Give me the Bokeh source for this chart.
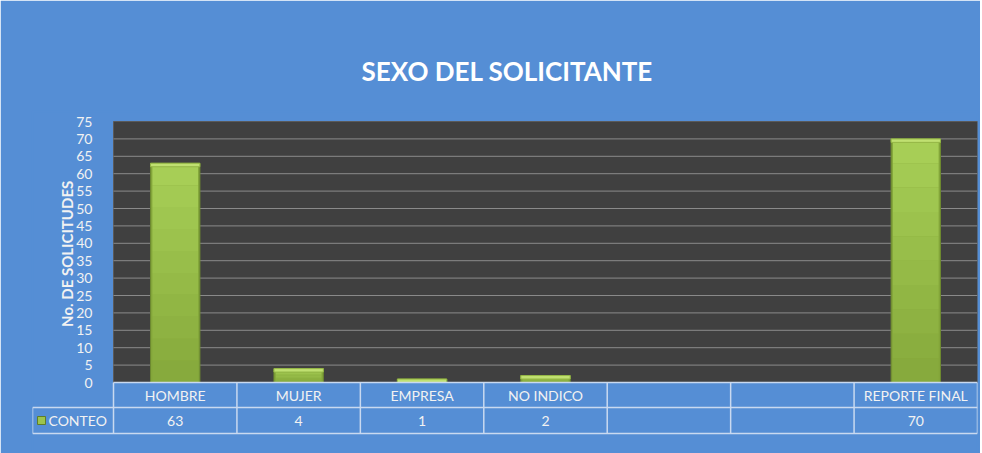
import math
from bokeh.plotting import figure
from bokeh.models import Range1d, FixedTicker
from bokeh.core.properties import value
from bokeh.embed import file_html
from bokeh.resources import INLINE

# ---------------- data ----------------
categories = ["HOMBRE", "MUJER", "EMPRESA", "NO INDICO", "", "", "REPORTE FINAL"]
counts = [63, 4, 1, 2, None, None, 70]
series_name = "CONTEO"
y_ticks = list(range(0, 80, 5))
title_text = "SEXO DEL SOLICITANTE"
y_title = "No. DE  SOLICITUDES"

# ---------------- style / layout ----------------
BLUE = "#558ED5"
DARK = "#404040"
TXT = "#F2F2F2"
LINE = "#C9D9F0"
GRID = "#8A8A8A"
FONT = "Lato"
W, H = 980, 453
n = len(categories)
ymax = y_ticks[-1]

PLOT_T = 121                                  # pixel top of the 0..75 area
HEAD = 10                                     # extra frame space above it (room for "75")
FRAME_L, FRAME_R, FRAME_T = 32, 3, PLOT_T - HEAD
PLOT_H = 261                                  # pixel height of the 0..75 area
LEG_W = 81                                    # pixel width of the legend column
ROW_H = [25, 26]                              # table row heights in pixels

col_px = (W - FRAME_L - FRAME_R - LEG_W) / n
ppu = PLOT_H / ymax                           # pixels per y unit
leftw = LEG_W / col_px
ybot = -(H - PLOT_T - PLOT_H) / ppu
ytop = ymax + HEAD / ppu
r1 = -ROW_H[0] / ppu
r2 = -(ROW_H[0] + ROW_H[1]) / ppu

p = figure(width=W, height=H, x_range=Range1d(-leftw, n), y_range=Range1d(ybot, ytop),
           output_backend="svg", toolbar_location=None,
           min_border_left=FRAME_L, min_border_right=FRAME_R, min_border_top=FRAME_T,
           min_border_bottom=0,
           background_fill_color=BLUE, border_fill_color=BLUE,
           outline_line_color=BLUE, outline_line_width=2)

p.title.text = title_text
p.title.align = "left"
p.title.offset = 361 - FRAME_L
p.title.text_color = "white"
p.title.text_font = FONT
p.title.text_font_style = "bold"
p.title.text_font_size = "26px"
p.title.standoff = 50

p.xaxis.visible = False
p.grid.visible = False

# plot area background
p.quad(left=[0], right=[n], bottom=[0], top=[ymax], fill_color=DARK, line_color="#5A5A5A")
# horizontal grid lines
gt = y_ticks[1:-1]
p.segment(x0=[0] * len(gt), y0=gt, x1=[n] * len(gt), y1=gt, line_color=GRID, line_width=1)

ax = p.yaxis[0]
ax.fixed_location = 0
ax.bounds = (0, ymax)
ax.ticker = FixedTicker(ticks=y_ticks)
ax.axis_line_color = None
ax.major_tick_line_color = None
ax.minor_tick_line_color = None
ax.major_label_text_color = TXT
ax.major_label_text_font = FONT
ax.major_label_text_font_size = "14px"
ax.major_label_standoff = 15

p.text(x=[-(113 - 66) / col_px], y=[ymax / 2], text=[y_title], angle=math.pi / 2,
       text_align="center", text_baseline="middle", text_color=TXT,
       text_font=value(FONT), text_font_style="bold", text_font_size="15px")

# ---------------- bars ----------------
xs, vals = [], []
for i, v in enumerate(counts):
    if v is not None:
        xs.append(i + 0.5)
        vals.append(v)

p.vbar(x=xs, top=vals, bottom=0, width=0.4,
       fill_color="#84A63B", line_color="#6D8A30", line_width=1)
shades = ["#87AA3D", "#8AAE3F", "#8EB242", "#91B644", "#95BA47",
          "#98BE4A", "#9CC24D", "#9FC650", "#A3CA53", "#A7CE56"]
k = len(shades)
for j, col in enumerate(shades):
    p.vbar(x=xs, bottom=[v * j / k for v in vals], top=[v * (j + 1) / k for v in vals],
           width=0.37, fill_color=col, line_color=None)
p.vbar(x=xs, top=vals, bottom=[max(v - 1.0, 0) for v in vals], width=0.4,
       fill_color="#C0E071", line_color="#93B545", line_width=1)

# ---------------- data table ----------------
centers = [i + 0.5 for i in range(n)]
p.segment(x0=[0, -leftw, -leftw], y0=[0, r1, r2], x1=[n, n, n], y1=[0, r1, r2],
          line_color=LINE, line_width=1.5)
vx = list(range(n + 1))
p.segment(x0=vx, y0=[r2] * len(vx), x1=vx, y1=[0] * len(vx), line_color=LINE, line_width=1.5)
p.segment(x0=[-leftw], y0=[r2], x1=[-leftw], y1=[r1], line_color=LINE, line_width=1.5)

p.text(x=centers, y=[r1 / 2] * n, text=categories,
       text_align="center", text_baseline="middle", text_color=TXT,
       text_font=value(FONT), text_font_size="14px")
p.text(x=centers, y=[(r1 + r2) / 2] * n,
       text=["" if v is None else str(v) for v in counts],
       text_align="center", text_baseline="middle", text_color=TXT,
       text_font=value(FONT), text_font_size="14px")

p.scatter(x=[-leftw + 9 / col_px], y=[(r1 + r2) / 2], marker="square", size=8,
          fill_color="#9CC44D", line_color="#5F7D28", line_width=1)
p.text(x=[-leftw + 16 / col_px], y=[(r1 + r2) / 2], text=[series_name],
       text_align="left", text_baseline="middle", text_color=TXT,
       text_font=value(FONT), text_font_size="14px")

open("out.html", "w").write(file_html(p, INLINE))
